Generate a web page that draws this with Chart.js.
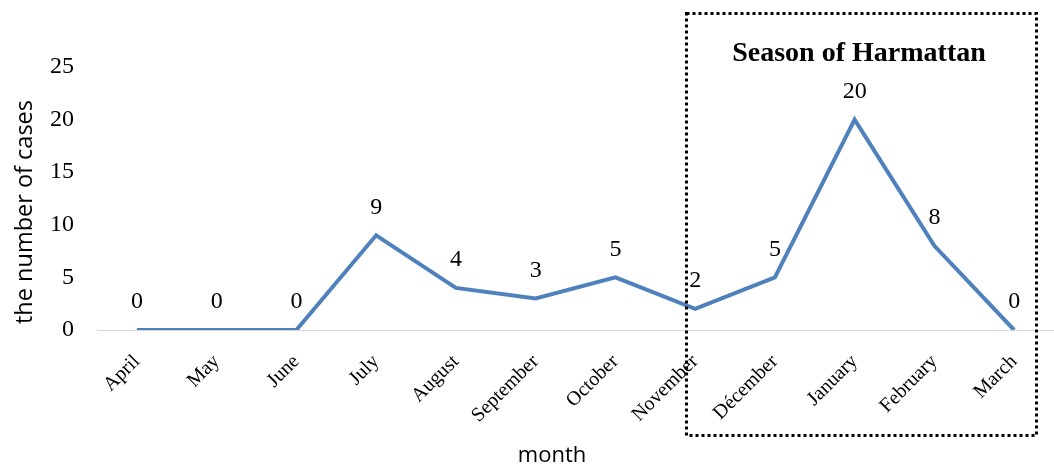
<!DOCTYPE html>
<html>
<head>
<meta charset="utf-8">
<script src="https://cdn.jsdelivr.net/npm/chart.js@4/dist/chart.umd.min.js"></script>
<style>
  html, body { margin: 0; padding: 0; background: #fff; }
  #wrap { width: 1054px; height: 469px; }
</style>
</head>
<body>
<div id="wrap"><canvas id="casesChart" width="1054" height="469"></canvas></div>
<script>
const months = ['April', 'May', 'June', 'July', 'August', 'September', 'October', 'November', 'Décember', 'January', 'February', 'March'];
const cases = [0, 0, 0, 9, 4, 3, 5, 2, 5, 20, 8, 0];
const yTicks = [0, 5, 10, 15, 20, 25];

const serif = '"Liberation Serif", "Times New Roman", serif';
const sans = '"Open Sans", "DejaVu Sans", sans-serif';

// value labels above points, axis titles and the dotted Harmattan box
const extras = {
  id: 'extras',
  afterDatasetsDraw(chart) {
    const ctx = chart.ctx;
    const meta = chart.getDatasetMeta(0);
    ctx.save();
    ctx.fillStyle = '#000';
    ctx.font = '24px ' + serif;
    ctx.textAlign = 'center';
    ctx.textBaseline = 'middle';
    meta.data.forEach((pt, i) => {
      ctx.fillText(String(cases[i]), pt.x, pt.y - 28);
    });

    ctx.font = '22px ' + sans;
    ctx.fillText('month', 552, 456);
    ctx.save();
    ctx.translate(25, 212);
    ctx.rotate(-Math.PI / 2);
    ctx.font = '23.5px ' + sans;
    ctx.fillText('the number of cases', 0, 0);
    ctx.restore();

    ctx.font = 'bold 28px ' + serif;
    ctx.fillText('Season of Harmattan', 859, 54);

    ctx.strokeStyle = '#000';
    ctx.lineWidth = 3;
    ctx.setLineDash([3, 3]);
    ctx.strokeRect(686.5, 13.5, 350, 422);
    ctx.restore();
  }
};

new Chart(document.getElementById('casesChart'), {
  type: 'line',
  data: {
    labels: months,
    datasets: [{
      data: cases,
      borderColor: '#4f81bd',
      borderWidth: 4,
      pointRadius: 0,
      tension: 0,
      fill: false
    }]
  },
  options: {
    responsive: false,
    animation: false,
    layout: { padding: { top: 67, right: 0, left: 0, bottom: 0 } },
    plugins: { legend: { display: false }, tooltip: { enabled: false } },
    scales: {
      x: {
        offset: true,
        grid: { display: false, drawTicks: false },
        border: { display: true, color: '#d9d9d9', width: 1 },
        ticks: {
          color: '#000',
          font: { family: serif, size: 20 },
          maxRotation: 45,
          minRotation: 45,
          padding: 20
        },
        afterFit: (s) => { s.height = 139; }
      },
      y: {
        min: 0,
        max: 25,
        grid: { display: false, drawTicks: false },
        border: { display: false },
        afterBuildTicks: (s) => { s.ticks = yTicks.map(v => ({ value: v })); },
        ticks: {
          color: '#000',
          font: { family: serif, size: 24 },
          padding: 23
        },
        afterFit: (s) => { s.width = 97; }
      }
    }
  },
  plugins: [extras]
});
</script>
</body>
</html>
